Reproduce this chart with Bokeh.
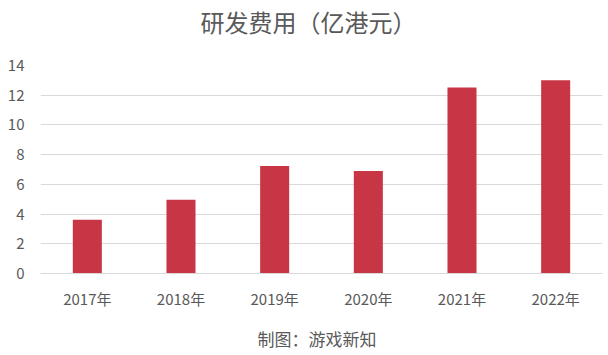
from bokeh.plotting import figure
from bokeh.models import Range1d, Title, FactorRange
from bokeh.embed import file_html
from bokeh.resources import INLINE

years = ["2017年", "2018年", "2019年", "2020年", "2021年", "2022年"]
rd_cost = [3.62, 4.96, 7.23, 6.9, 12.52, 13.0]
y_ticks = [0, 2, 4, 6, 8, 10, 12, 14]
title_text = "研发费用（亿港元）"
source_text = "制图：游戏新知"

FONT = "Noto Sans CJK SC"
GRAY = "#595959"

p = figure(width=608, height=355, x_range=FactorRange(*years, range_padding=0),
           y_range=Range1d(0, 14), output_backend="svg", toolbar_location=None,
           min_border_left=40, min_border_right=6, min_border_top=0, min_border_bottom=0)

p.vbar(x=years, top=rd_cost, width=0.31, color="#C83646", line_color=None)

# spacer next to the frame, then the title further out
p.add_layout(Title(text=" ", text_font_size="1px", standoff=21), "above")
p.add_layout(Title(text=title_text, align="left", offset=160, vertical_align="middle",
                   text_font=FONT, text_font_size="24px", text_color=GRAY,
                   text_font_style="normal", standoff=4), "above")
# below: x axis, spacer, source
p.add_layout(Title(text=" ", text_font_size="1px", standoff=6), "below")
p.add_layout(Title(text=source_text, align="left", offset=217, vertical_align="middle",
                   text_font=FONT, text_font_size="17px", text_color=GRAY,
                   text_font_style="normal", standoff=8), "below")

p.outline_line_color = None
p.xgrid.grid_line_color = None
p.ygrid.grid_line_color = "#d9d9d9"
p.ygrid.ticker = y_ticks
p.yaxis.ticker = y_ticks
p.yaxis.axis_line_color = None
p.yaxis.major_tick_line_color = None
p.yaxis.minor_tick_line_color = None
p.yaxis.major_label_standoff = 10
p.xaxis.axis_line_color = "#d9d9d9"
p.xaxis.major_tick_line_color = None
p.xaxis.minor_tick_line_color = None
p.xaxis.major_label_standoff = 8
for ax in (p.xaxis, p.yaxis):
    ax.major_label_text_font = FONT
    ax.major_label_text_font_size = "15px"
    ax.major_label_text_color = GRAY

open("out.html", "w").write(file_html(p, INLINE))
